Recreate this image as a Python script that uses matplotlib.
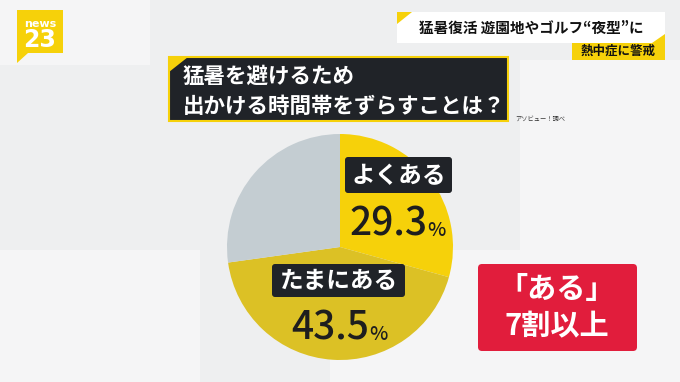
import matplotlib
matplotlib.use("Agg")
import matplotlib.pyplot as plt
from matplotlib.patches import Rectangle, FancyBboxPatch, Polygon

plt.rcParams['font.family'] = ['Noto Sans CJK JP', 'DejaVu Sans']

# data
labels = ['よくある', 'たまにある', 'その他']
shares = [29.3, 43.5, 27.2]
colors = ['#f6d10a', '#dcc125', '#c4cdd2']
title_lines = ['猛暑を避けるため', '出かける時間帯をずらすことは？']
headline = '猛暑復活 遊園地やゴルフ“夜型”に'
subhead = '熱中症に警戒'
source = 'アソビュー！調べ'
callout = ['「ある」', '7割以上']

W, H = 680, 382
fig = plt.figure(figsize=(W / 100, H / 100), dpi=100)
fig.patch.set_facecolor('#eeeff0')

# background layer (pixel coords, y down)
bg = fig.add_axes([0, 0, 1, 1], zorder=0)
bg.set_xlim(0, W)
bg.set_ylim(H, 0)
bg.axis('off')
for x, y, w, h in [(0, 0, 150, 65), (520, 60, 160, 190), (330, 250, 350, 132), (0, 250, 200, 132)]:
    bg.add_patch(Rectangle((x, y), w, h, color='#f5f5f6', lw=0))

# pie
cx, cy, r = 340, 247, 113
pax = fig.add_axes([(cx - r) / W, (H - cy - r) / H, 2 * r / W, 2 * r / H], zorder=1)
pax.pie(shares, colors=colors, startangle=90, counterclock=False,
        wedgeprops=dict(linewidth=0))
pax.set_xlim(-1, 1)
pax.set_ylim(-1, 1)

# overlay layer
ov = fig.add_axes([0, 0, 1, 1], zorder=2)
ov.set_xlim(0, W)
ov.set_ylim(H, 0)
ov.axis('off')
ov.patch.set_alpha(0)

dark = '#202328'
renderer = fig.canvas.get_renderer()

# logo
ov.add_patch(Polygon([(17, 10), (63, 10), (63, 53), (28, 53), (17, 63)], closed=True,
                     color='#f6d10a', lw=0))
ov.text(40, 24, 'news', color='white', fontsize=8, fontweight='bold',
        ha='center', va='center', family=['DejaVu Sans'])
ov.text(40, 40, '23', color='white', fontsize=17, fontweight='bold',
        ha='center', va='center', family=['DejaVu Sans'])

# headline
ov.add_patch(Rectangle((397, 12), 268, 31, color='white', lw=0))
ov.add_patch(Polygon([(397, 12), (412, 12), (397, 24)], closed=True, color='#f6d10a', lw=0))
ov.text(531, 28, headline, color='#111111', fontsize=10.5, fontweight='bold',
        ha='center', va='center')
ov.add_patch(Rectangle((572, 43), 93, 17, color='#f6d10a', lw=0))
ov.add_patch(Polygon([(652, 43), (665, 43), (665, 34)], closed=True, color='#f6d10a', lw=0))
ov.text(618, 51, subhead, color='#111111', fontsize=9, fontweight='bold',
        ha='center', va='center')

# question box
ov.add_patch(Rectangle((169, 57), 339, 64, facecolor=dark, edgecolor='#f6d10a', lw=1.5))
ov.add_patch(Polygon([(169, 57), (188, 57), (169, 72)], closed=True, color='#f6d10a', lw=0))
ov.text(183, 76, title_lines[0], color='white', fontsize=15.5, fontweight='bold',
        ha='left', va='center')
ov.text(183, 106, title_lines[1], color='white', fontsize=15.5, fontweight='bold',
        ha='left', va='center')
ov.text(515, 119, source, color='#333333', fontsize=4.5, ha='left', va='center')

# pie labels
def tag(x0, y0, w, h, text):
    ov.add_patch(FancyBboxPatch((x0, y0), w, h, boxstyle='round,pad=0,rounding_size=3',
                                color=dark, lw=0))
    ov.text(x0 + w / 2, y0 + h / 2 + 1, text, color='white', fontsize=17,
            fontweight='bold', ha='center', va='center')

def pct(x, y, value):
    t = ov.text(x, y, f'{value:.1f}', color='#1e1e1e', fontsize=28, fontweight=500,
                ha='left', va='baseline')
    bb = t.get_window_extent(renderer)
    x_end = ov.transData.inverted().transform((bb.x1, bb.y0))[0]
    ov.text(x_end + 0.5, y, '%', color='#1e1e1e', fontsize=14, fontweight=500,
            ha='left', va='baseline')

tag(345, 157, 107, 36, labels[0])
pct(349, 236, shares[0])
tag(272, 264, 133, 33, labels[1])
pct(291, 340, shares[1])

# callout
ov.add_patch(FancyBboxPatch((478, 264), 159, 87, boxstyle='round,pad=0,rounding_size=4',
                            color='#e11d3c', lw=0))
ov.text(557, 289, callout[0], color='white', fontsize=21, fontweight='bold',
        ha='center', va='center')
ov.text(557, 326, callout[1], color='white', fontsize=21, fontweight='bold',
        ha='center', va='center')

fig.savefig('out.png', dpi=100)
